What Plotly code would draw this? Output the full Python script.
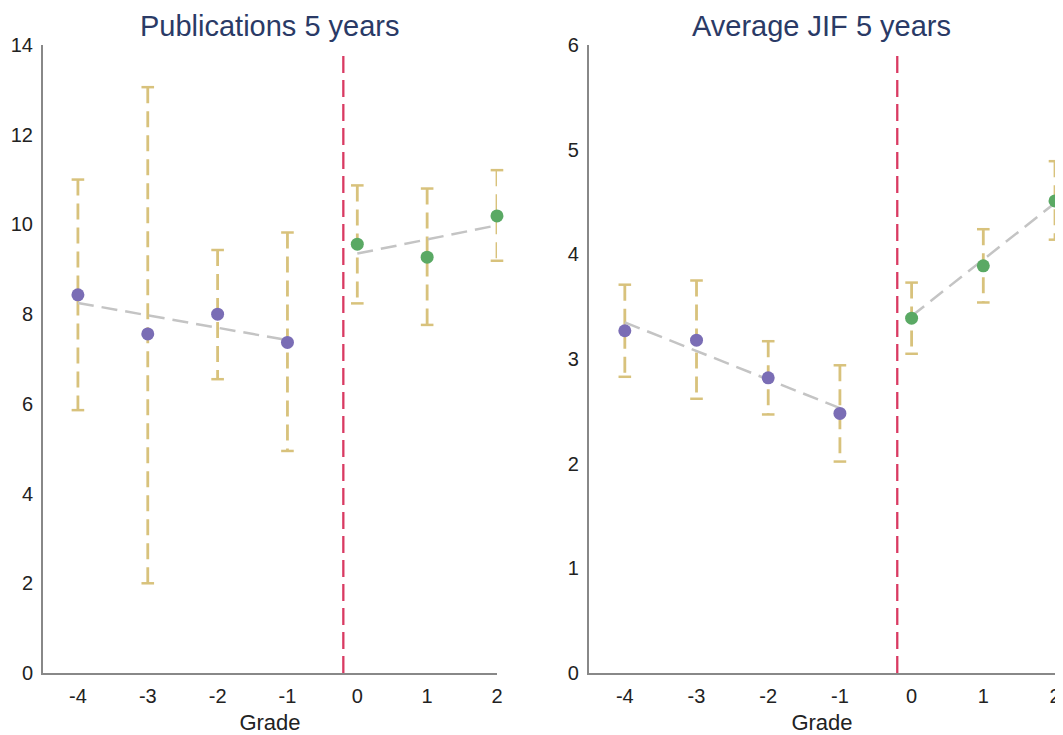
import plotly.graph_objects as go

# ---- data ----
grades = [-4, -3, -2, -1, 0, 1, 2]
grade_labels = ["-4", "-3", "-2", "-1", "0", "1", "2"]

pub_mean = [8.43, 7.56, 8.00, 7.37, 9.56, 9.27, 10.19]
pub_low = [5.86, 2.00, 6.55, 4.95, 8.24, 7.76, 9.19]
pub_high = [11.00, 13.06, 9.43, 9.82, 10.87, 10.80, 11.21]
pub_fit_pre_x = [-4, -1]
pub_fit_pre_y = [8.25, 7.42]
pub_fit_post_x = [0, 2]
pub_fit_post_y = [9.35, 9.98]

jif_mean = [3.27, 3.18, 2.82, 2.48, 3.39, 3.89, 4.51]
jif_low = [2.83, 2.62, 2.47, 2.02, 3.05, 3.54, 4.14]
jif_high = [3.71, 3.75, 3.17, 2.94, 3.73, 4.24, 4.89]
jif_fit_pre_x = [-4, -1]
jif_fit_pre_y = [3.35, 2.53]
jif_fit_post_x = [0, 2]
jif_fit_post_y = [3.41, 4.49]

cutoff = -0.2
titles = ["Publications 5 years", "Average JIF 5 years"]
y_ranges = [[0, 14], [0, 6]]
y_dticks = [2, 1]

# ---- styles ----
PURPLE = "#7a6db5"
GREEN = "#5aa964"
TAN = "#d8c27c"
GRAY = "#c4c4c4"
RED = "#d93a62"
FONT = "Liberation Sans, Arial, sans-serif"

fig = go.Figure()

panels = [
    (pub_mean, pub_low, pub_high, pub_fit_pre_x, pub_fit_pre_y, pub_fit_post_x, pub_fit_post_y),
    (jif_mean, jif_low, jif_high, jif_fit_pre_x, jif_fit_pre_y, jif_fit_post_x, jif_fit_post_y),
]

for i, (mean, low, high, fpx, fpy, fqx, fqy) in enumerate(panels):
    xa = "x" if i == 0 else "x2"
    ya = "y" if i == 0 else "y2"
    # dashed error bars (drawn from the high end down so the cap is followed by a gap)
    ex, ey = [], []
    for g, lo, hi in zip(grades, low, high):
        ex += [g, g, None]
        ey += [hi, lo, None]
    fig.add_trace(go.Scatter(x=ex, y=ey, mode="lines", xaxis=xa, yaxis=ya,
                             line=dict(color=TAN, width=2.8, dash="16px,8px"),
                             hoverinfo="skip", showlegend=False, cliponaxis=False))
    # caps
    fig.add_trace(go.Scatter(x=grades + grades, y=low + high, mode="markers",
                             xaxis=xa, yaxis=ya,
                             marker=dict(symbol="line-ew", size=9,
                                         line=dict(color=TAN, width=2.5)),
                             hoverinfo="skip", showlegend=False, cliponaxis=False))
    # fit lines
    for fx, fy in [(fpx, fpy), (fqx, fqy)]:
        fig.add_trace(go.Scatter(x=fx, y=fy, mode="lines", xaxis=xa, yaxis=ya,
                                 line=dict(color=GRAY, width=2.5, dash="16px,8px"),
                                 hoverinfo="skip", showlegend=False, cliponaxis=False))
    # markers
    colors = [PURPLE if g < 0 else GREEN for g in grades]
    fig.add_trace(go.Scatter(x=grades, y=mean, mode="markers", xaxis=xa, yaxis=ya,
                             marker=dict(color=colors, size=13),
                             showlegend=False, cliponaxis=False))
    # cutoff line
    fig.add_shape(type="line", xref=xa, yref=ya + " domain", x0=cutoff, x1=cutoff,
                  y0=0, y1=0.99, line=dict(color=RED, width=2.3, dash="17px,7px"))

axis_common = dict(showgrid=False, zeroline=False, showline=True, linecolor="#888888",
                   linewidth=2, ticks="", automargin=False,
                   tickfont=dict(family=FONT, size=20, color="#222222"))
xtitle = dict(text="Grade", font=dict(family=FONT, size=22, color="#222222"), standoff=9)

fig.update_layout(
    width=1055, height=727,
    margin=dict(l=35, r=8, t=37, b=62),
    paper_bgcolor="white", plot_bgcolor="white",
    font=dict(family=FONT),
    xaxis=dict(domain=[0, 0.4486], range=[-4.5, 2], tickvals=grades, ticktext=grade_labels,
               ticklabelstandoff=4, title=xtitle, **axis_common),
    yaxis=dict(domain=[0, 1], range=y_ranges[0], dtick=y_dticks[0], anchor="x",
               ticklabelstandoff=4, **axis_common),
    xaxis2=dict(domain=[0.5395, 1], range=[-4.5, 2], tickvals=grades, ticktext=grade_labels,
                anchor="y2", ticklabelstandoff=4, title=xtitle, **axis_common),
    yaxis2=dict(domain=[0, 1], range=y_ranges[1], dtick=y_dticks[1], anchor="x2",
                ticklabelstandoff=4, **axis_common),
)

for i, t in enumerate(titles):
    xa = "x" if i == 0 else "x2"
    fig.add_annotation(text=t, xref=xa + " domain", yref="paper", x=0.5, y=1,
                       xanchor="center", yanchor="bottom", yshift=1, showarrow=False,
                       font=dict(family=FONT, size=29, color="#2a3a66"))

fig.write_html("out.html")
